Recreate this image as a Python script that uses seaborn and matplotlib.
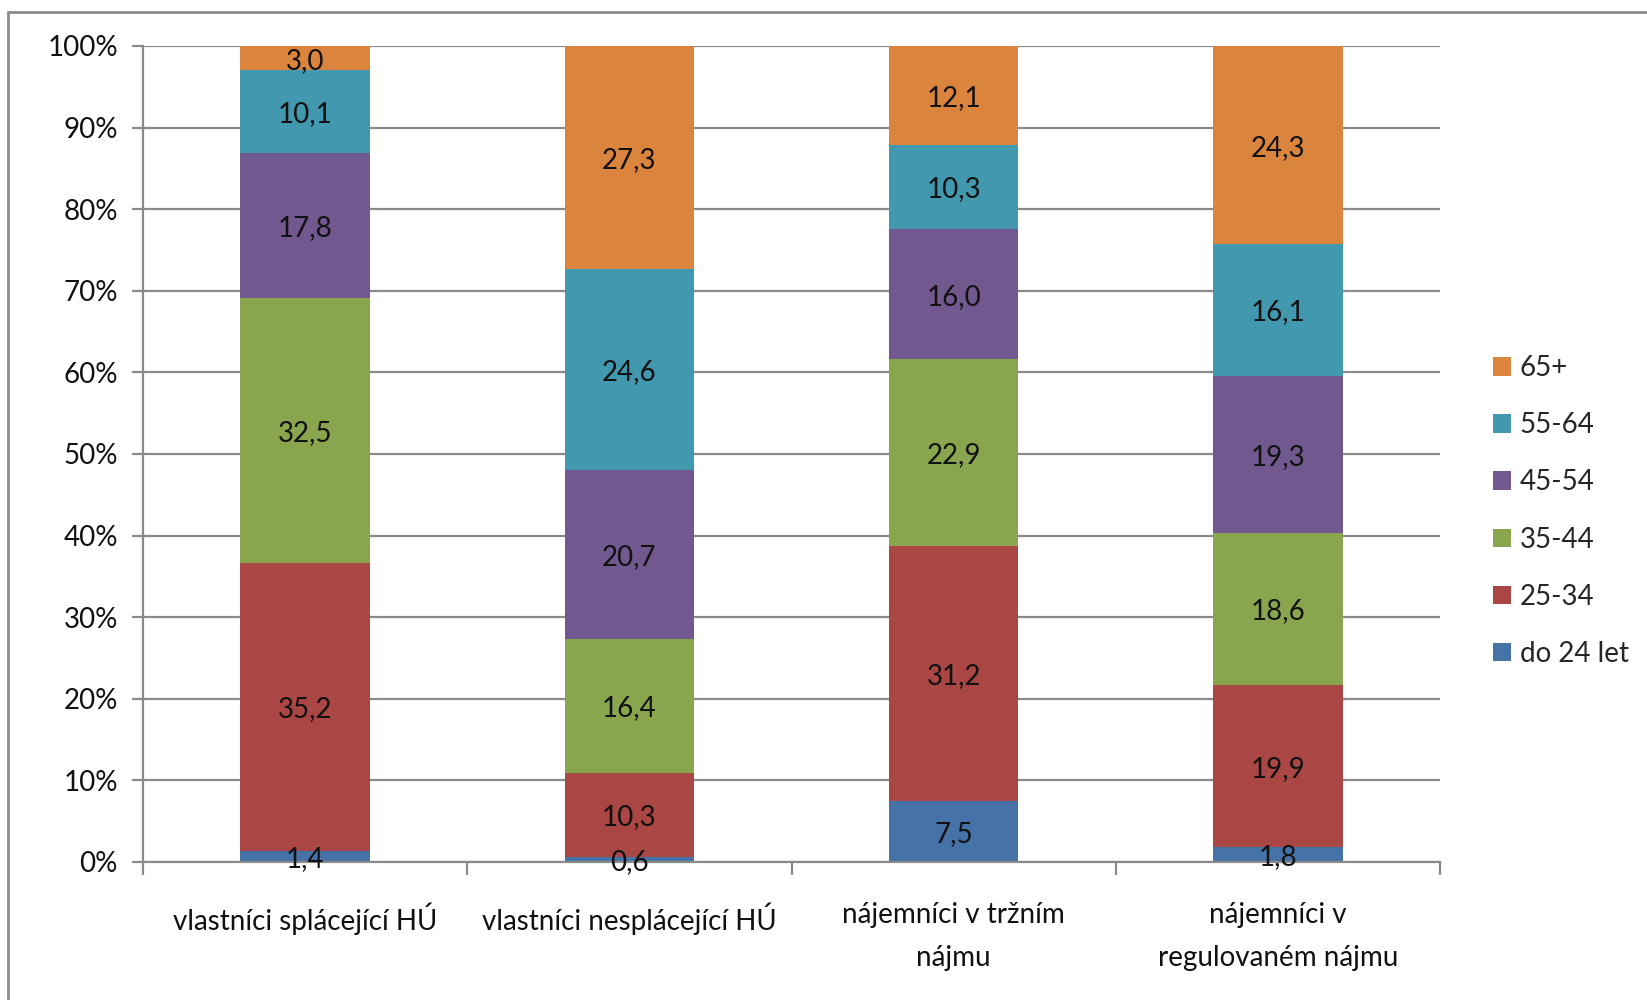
import numpy as np
import pandas as pd
import matplotlib
matplotlib.use("Agg")
import matplotlib.pyplot as plt
from matplotlib.lines import Line2D
from matplotlib.patches import Patch
import seaborn as sns

categories = ["vlastníci splácející HÚ", "vlastníci nesplácející HÚ",
              "nájemníci v tržním\nnájmu", "nájemníci v\nregulovaném nájmu"]
series_names = ["do 24 let", "25-34", "35-44", "45-54", "55-64", "65+"]
do24 = [1.4, 0.6, 7.5, 1.8]
age25_34 = [35.2, 10.3, 31.2, 19.9]
age35_44 = [32.5, 16.4, 22.9, 18.6]
age45_54 = [17.8, 20.7, 16.0, 19.3]
age55_64 = [10.1, 24.6, 10.3, 16.1]
age65 = [3.0, 27.3, 12.1, 24.3]
colors = ["#4572A7", "#AA4643", "#89A54E", "#71588F", "#4198AF", "#DB843D"]
y_ticks = [0, 10, 20, 30, 40, 50, 60, 70, 80, 90, 100]

sns.set_theme(style="white")
plt.rcParams["font.family"] = ["Lato", "DejaVu Sans"]

FS = 20

values = np.array([do24, age25_34, age35_44, age45_54, age55_64, age65])
shares = values / values.sum(axis=0) * 100
cum = np.cumsum(shares, axis=0)

fig = plt.figure(figsize=(16.47, 10.0), dpi=100)
ax = fig.add_axes([143 / 1647, 1 - 862 / 1000, (1440 - 143) / 1647, (862 - 46) / 1000])

# stacked 100 % bars: draw cumulative totals from the top layer down
for i in range(len(series_names) - 1, -1, -1):
    df = pd.DataFrame({"kat": categories, "val": cum[i]})
    sns.barplot(data=df, x="kat", y="val", color=colors[i], width=0.4,
                saturation=1, linewidth=0, ax=ax, zorder=3)

# segment value labels
for i in range(len(series_names)):
    for j in range(len(categories)):
        mid = cum[i, j] - shares[i, j] / 2
        ax.text(j, mid, f"{values[i, j]:.1f}".replace(".", ","),
                ha="center", va="center_baseline", fontsize=FS, color="#111111", zorder=5)

ax.set_ylim(0, 100)
ax.set_xlim(-0.5, len(categories) - 0.5)
ax.set_yticks(y_ticks)
ax.set_yticklabels([f"{t}%" for t in y_ticks], fontsize=FS, color="#111111")
ax.yaxis.grid(True, color="#8a8a8a", linewidth=1.6, zorder=0)
ax.set_axisbelow(True)
ax.tick_params(axis="y", length=8, width=1.6, color="#8a8a8a", pad=10, left=True)

ax.set_xticks(range(len(categories)))
ax.set_xticklabels(categories, fontsize=FS, color="#111111", linespacing=1.8)
ax.set_xticks(np.arange(-0.5, len(categories)), minor=True)
ax.tick_params(axis="x", which="major", length=0, pad=29)
ax.tick_params(axis="x", which="minor", length=9, width=1.6, color="#8a8a8a",
               bottom=True)
ax.set_xlabel("")
ax.set_ylabel("")

for side in ["top", "right"]:
    ax.spines[side].set_visible(False)
for side in ["left", "bottom"]:
    ax.spines[side].set_color("#8a8a8a")
    ax.spines[side].set_linewidth(1.6)
    ax.spines[side].set_zorder(4)

# legend, oldest age group on top
handles = [Patch(facecolor=colors[i], edgecolor="none", label=series_names[i])
           for i in range(len(series_names) - 1, -1, -1)]
fig.legend(handles=handles, loc="center left", bbox_to_anchor=(1482 / 1647, 1 - 511 / 1000),
           frameon=False, fontsize=FS, handlelength=0.65, handleheight=0.65,
           handletextpad=0.3, labelspacing=1.12, borderaxespad=0)

# outer chart frame
fig.add_artist(Line2D([8 / 1647, 8 / 1647], [0, 1 - 12 / 1000], color="#8c8c8c",
                      linewidth=2, transform=fig.transFigure))
fig.add_artist(Line2D([8 / 1647, 1], [1 - 12 / 1000, 1 - 12 / 1000], color="#8c8c8c",
                      linewidth=2, transform=fig.transFigure))

fig.savefig("out.png", dpi=100, facecolor="white")
